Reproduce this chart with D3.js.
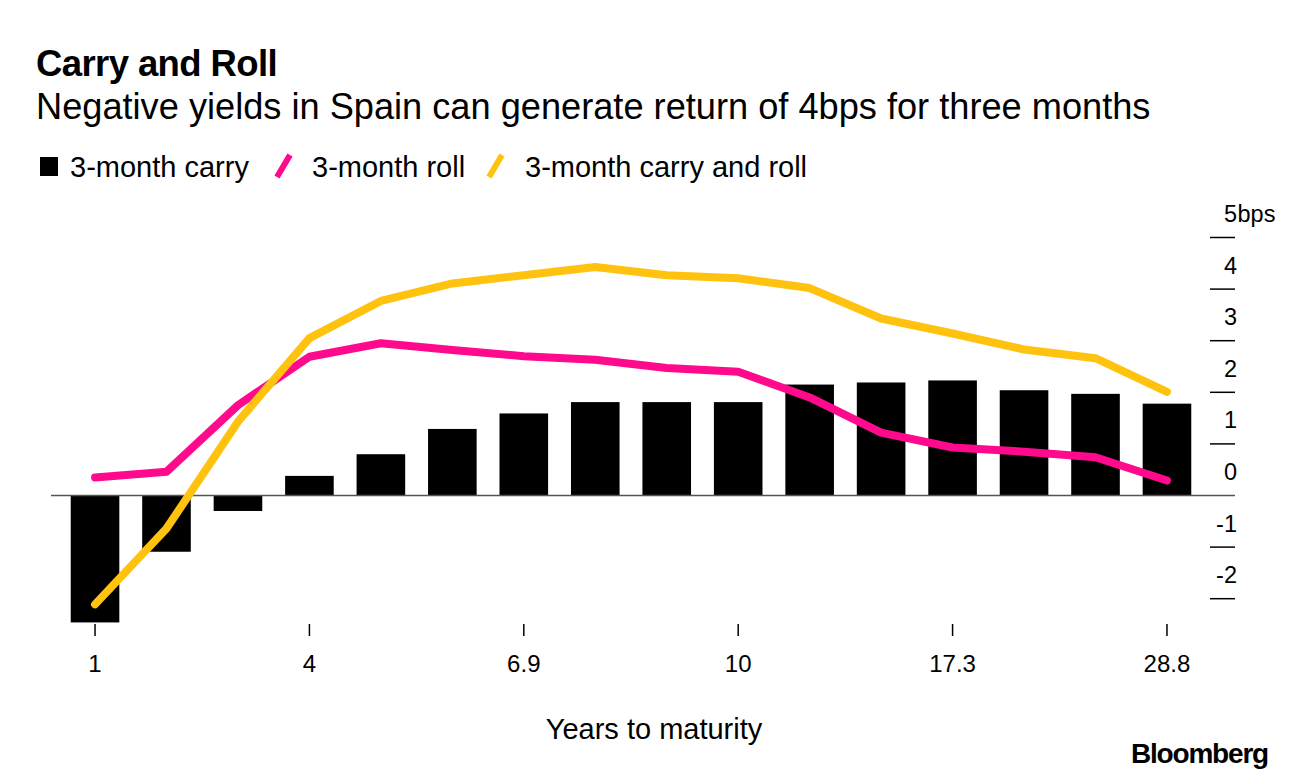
<!DOCTYPE html>
<html>
<head>
    <title>Carry and Roll</title>
    <style>
        body { margin: 0; background: #fff; }
        text { font-family: "Liberation Sans", Arial, sans-serif; }
    </style>
    <script src="https://d3js.org/d3.v7.min.js"></script>
</head>
<body>
<script type="text/javascript">

    // values, in bps
    var carry = [-2.46, -1.09, -0.30, 0.38, 0.80, 1.29, 1.59, 1.81,
                 1.81, 1.81, 2.15, 2.19, 2.23, 2.04, 1.97, 1.78];
    var roll = [0.35, 0.46, 1.75, 2.69, 2.95, 2.82, 2.70, 2.63,
                2.47, 2.40, 1.90, 1.22, 0.93, 0.85, 0.74, 0.29];
    var carryRoll = [-2.11, -0.64, 1.43, 3.05, 3.77, 4.11, 4.27, 4.43,
                     4.27, 4.21, 4.02, 3.43, 3.14, 2.83, 2.66, 2.01];

    // only some maturities are labelled on the x axis
    var tickIndex = [0, 3, 6, 9, 12, 15];
    var tickLabels = ['1', '4', '6.9', '10', '17.3', '28.8'];
    var yTicks = [-2, -1, 0, 1, 2, 3, 4, 5];

    var pink = '#ff0a8c', yellow = '#ffc20e';

    var width = 1296, height = 770;

    var svg = d3.select('body')
                    .append('svg')
                    .attr('width', width)
                    .attr('height', height);

    var x = d3.scaleBand()
            .domain(d3.range(carry.length))
            .range([59.3, 1202.7])
            .paddingInner(0.32)
            .paddingOuter(0.16);

    var y = d3.scaleLinear()
            .domain([-2, 5])
            .range([598.7, 237.5]);

    function cx(i) { return x(i) + x.bandwidth() / 2; }

    // title block
    svg.append('text')
        .attr('x', 36).attr('y', 76)
        .style('font-size', '36.5px').style('font-weight', 'bold')
        .style('letter-spacing', '-0.6px')
        .text('Carry and Roll');

    svg.append('text')
        .attr('x', 36).attr('y', 119)
        .style('font-size', '36.2px')
        .text('Negative yields in Spain can generate return of 4bps for three months');

    // legend
    var legend = svg.append('g').style('font-size', '29px');
    legend.append('rect')
        .attr('x', 40).attr('y', 157).attr('width', 18).attr('height', 19)
        .style('fill', '#000');
    legend.append('text').attr('x', 70).attr('y', 177).text('3-month carry');
    legend.append('line')
        .attr('x1', 277).attr('y1', 177).attr('x2', 290).attr('y2', 155)
        .style('stroke', pink).style('stroke-width', 6);
    legend.append('text').attr('x', 312).attr('y', 177).text('3-month roll');
    legend.append('line')
        .attr('x1', 489).attr('y1', 177).attr('x2', 502).attr('y2', 155)
        .style('stroke', yellow).style('stroke-width', 6);
    legend.append('text').attr('x', 525).attr('y', 177).text('3-month carry and roll');

    // y axis on the right, labels sit above each tick
    var yAxis = svg.append('g');
    yAxis.selectAll('line')
        .data(yTicks.filter(function(d) { return d !== 0; }))
        .enter()
        .append('line')
        .attr('x1', 1210).attr('x2', 1235)
        .attr('y1', function(d) { return y(d); })
        .attr('y2', function(d) { return y(d); })
        .style('stroke', '#000').style('stroke-width', 1.5);

    yAxis.selectAll('text')
        .data(yTicks)
        .enter()
        .append('text')
        .attr('x', 1237)
        .attr('y', function(d) { return y(d) - 15.5; })
        .style('font-size', '23.5px')
        .style('text-anchor', 'end')
        .text(function(d) { return d; });

    // unit after the top label
    svg.append('text')
        .attr('x', 1237.5).attr('y', y(5) - 15.5)
        .style('font-size', '23.5px')
        .text('bps');

    // bars
    svg.selectAll('rect.bar')
        .data(carry)
        .enter()
        .append('rect')
        .attr('class', 'bar')
        .attr('x', function(d, i) { return x(i); })
        .attr('width', x.bandwidth())
        .attr('y', function(d) { return y(Math.max(0, d)); })
        .attr('height', function(d) { return Math.abs(y(d) - y(0)); })
        .style('fill', '#000');

    // zero line
    svg.append('line')
        .attr('x1', 51).attr('x2', 1235)
        .attr('y1', y(0)).attr('y2', y(0))
        .style('stroke', '#555').style('stroke-width', 1.5);

    // lines
    var line = d3.line()
            .x(function(d, i) { return cx(i); })
            .y(function(d) { return y(d); });

    [[roll, pink], [carryRoll, yellow]].forEach(function(s) {
        svg.append('path')
            .datum(s[0])
            .attr('d', line)
            .style('fill', 'none')
            .style('stroke', s[1])
            .style('stroke-width', 8)
            .style('stroke-linecap', 'round')
            .style('stroke-linejoin', 'round');
    });

    // x axis
    var xAxis = svg.append('g');
    xAxis.selectAll('line')
        .data(tickIndex)
        .enter()
        .append('line')
        .attr('x1', function(d) { return cx(d); })
        .attr('x2', function(d) { return cx(d); })
        .attr('y1', 624).attr('y2', 636)
        .style('stroke', '#000').style('stroke-width', 1.5);

    xAxis.selectAll('text')
        .data(tickIndex)
        .enter()
        .append('text')
        .attr('x', function(d) { return cx(d); })
        .attr('y', 672)
        .style('font-size', '24px')
        .style('text-anchor', 'middle')
        .text(function(d, i) { return tickLabels[i]; });

    svg.append('text')
        .attr('x', 654).attr('y', 739)
        .style('font-size', '29px')
        .style('text-anchor', 'middle')
        .text('Years to maturity');

    svg.append('text')
        .attr('x', 1268).attr('y', 763)
        .style('font-size', '28px').style('font-weight', 'bold')
        .style('letter-spacing', '-1.2px')
        .style('text-anchor', 'end')
        .text('Bloomberg');

</script>
</body>
</html>
